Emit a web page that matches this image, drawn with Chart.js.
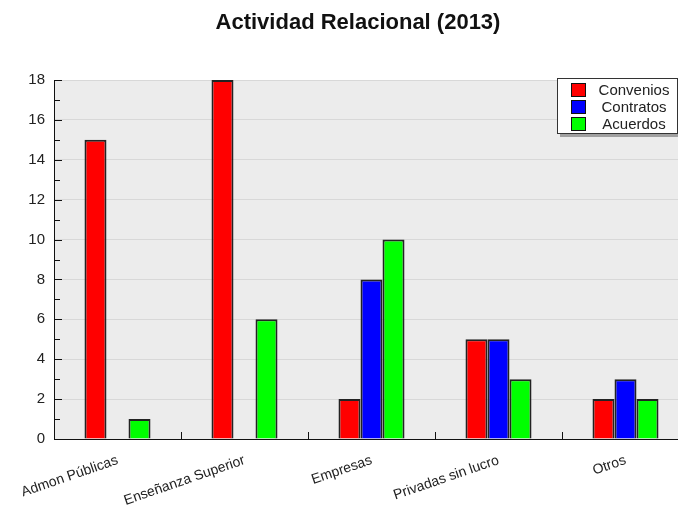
<!DOCTYPE html>
<html>
<head>
<meta charset="utf-8">
<script src="https://cdn.jsdelivr.net/npm/chart.js@4"></script>
<style>
  html, body { margin: 0; padding: 0; background: #fff; overflow: hidden; width: 678px; height: 506px; }
  #wrap { position: absolute; left: 0; top: 0; width: 690px; height: 506px; }
  #title { position: absolute; left: 0; width: 716px; top: 9px; text-align: center;
           font: bold 22px "Liberation Sans", Arial, sans-serif; color: #111; }
  #legend { position: absolute; left: 557px; top: 78px; width: 119px; height: 54px;
            border: 1px solid #333; background: #fff; box-shadow: 3px 3px 0 #a0a0a0; }
  .item { position: absolute; left: 13px; height: 17px; width: 100px; }
  .sw { position: absolute; left: 0; top: 1px; width: 13px; height: 12px; border: 1px solid #111; }
  .lbl { position: absolute; left: 25px; top: -1px; width: 76px; text-align: center;
         font: 15px "Liberation Sans", Arial, sans-serif; color: #222; white-space: nowrap; }
</style>
</head>
<body>
<div id="wrap"><canvas id="c" width="690" height="506"></canvas></div>
<div id="title">Actividad Relacional (2013)</div>
<div id="legend"></div>
<script>
const categories = ['Admon Públicas', 'Enseñanza Superior', 'Empresas', 'Privadas sin lucro', 'Otros'];
const seriesNames = ['Convenios', 'Contratos', 'Acuerdos'];
const convenios = [15, 18, 2, 5, 2];
const contratos = [null, null, 8, 5, 3];
const acuerdos = [1, 6, 10, 3, 2];
const seriesColors = ['#ff0000', '#0000ff', '#00ff00'];
const yMin = 0, yMax = 18, yStep = 2;

const bgPlugin = {
  id: 'bg',
  beforeDraw(chart) {
    const {ctx, chartArea: a} = chart;
    ctx.save();
    ctx.fillStyle = '#ffffff';
    ctx.fillRect(0, 0, chart.width, chart.height);
    ctx.fillStyle = '#ececec';
    ctx.fillRect(a.left, a.top, a.right - a.left, a.bottom - a.top);
    ctx.restore();
  }
};

const tickPlugin = {
  id: 'innerTicks',
  afterDraw(chart) {
    const {ctx, chartArea: a} = chart;
    const y = chart.scales.y, x = chart.scales.x;
    ctx.save();
    ctx.strokeStyle = '#111';
    ctx.lineWidth = 1;
    ctx.beginPath();
    for (let v = yMin; v <= yMax; v++) {
      const py = Math.round(y.getPixelForValue(v)) + 0.5;
      const len = v % yStep === 0 ? 8 : 6;
      ctx.moveTo(a.left, py);
      ctx.lineTo(a.left + len, py);
    }
    for (let i = 0; i < categories.length - 1; i++) {
      const px = Math.round((x.getPixelForValue(i) + x.getPixelForValue(i + 1)) / 2) + 0.5;
      ctx.moveTo(px, a.bottom);
      ctx.lineTo(px, a.bottom - 7);
    }
    ctx.stroke();
    ctx.restore();
  }
};

const values = [convenios, contratos, acuerdos];
const datasets = seriesNames.map((n, i) => ({
  label: n,
  data: values[i],
  backgroundColor: seriesColors[i],
  borderColor: '#222',
  borderWidth: 2,
  categoryPercentage: 0.52,
  barPercentage: 1.0
}));

new Chart(document.getElementById('c'), {
  type: 'bar',
  data: { labels: categories, datasets },
  options: {
    responsive: false,
    animation: false,
    layout: { padding: { top: 80, right: 1, left: 0, bottom: 0 } },
    plugins: { legend: { display: false }, title: { display: false }, tooltip: { enabled: false } },
    scales: {
      x: {
        offset: true,
        grid: { display: true, color: 'rgba(0,0,0,0)', drawTicks: false, offset: true },
        border: { display: true, color: '#111', width: 1 },
        ticks: {
          autoSkip: false, maxRotation: 19, minRotation: 19, padding: 13,
          color: '#222', font: { family: '"Liberation Sans", Arial, sans-serif', size: 14 }
        },
        afterFit(s) { s.height = 67; }
      },
      y: {
        min: yMin, max: yMax,
        grid: { color: c => (c.tick && c.tick.value === 0) ? 'rgba(0,0,0,0)' : '#d8d8d8', drawTicks: false },
        border: { display: true, color: '#111', width: 1 },
        ticks: {
          stepSize: yStep, padding: 9, color: '#222',
          font: { family: '"Liberation Sans", Arial, sans-serif', size: 15 }
        },
        afterFit(s) { s.width = 54; }
      }
    }
  },
  plugins: [bgPlugin, tickPlugin]
});

const legend = document.getElementById('legend');
seriesNames.forEach((n, i) => {
  const it = document.createElement('div');
  it.className = 'item';
  it.style.top = (3 + i * 17) + 'px';
  const sw = document.createElement('div');
  sw.className = 'sw';
  sw.style.background = seriesColors[i];
  const lb = document.createElement('div');
  lb.className = 'lbl';
  lb.textContent = n;
  it.appendChild(sw); it.appendChild(lb);
  legend.appendChild(it);
});
</script>
</body>
</html>
